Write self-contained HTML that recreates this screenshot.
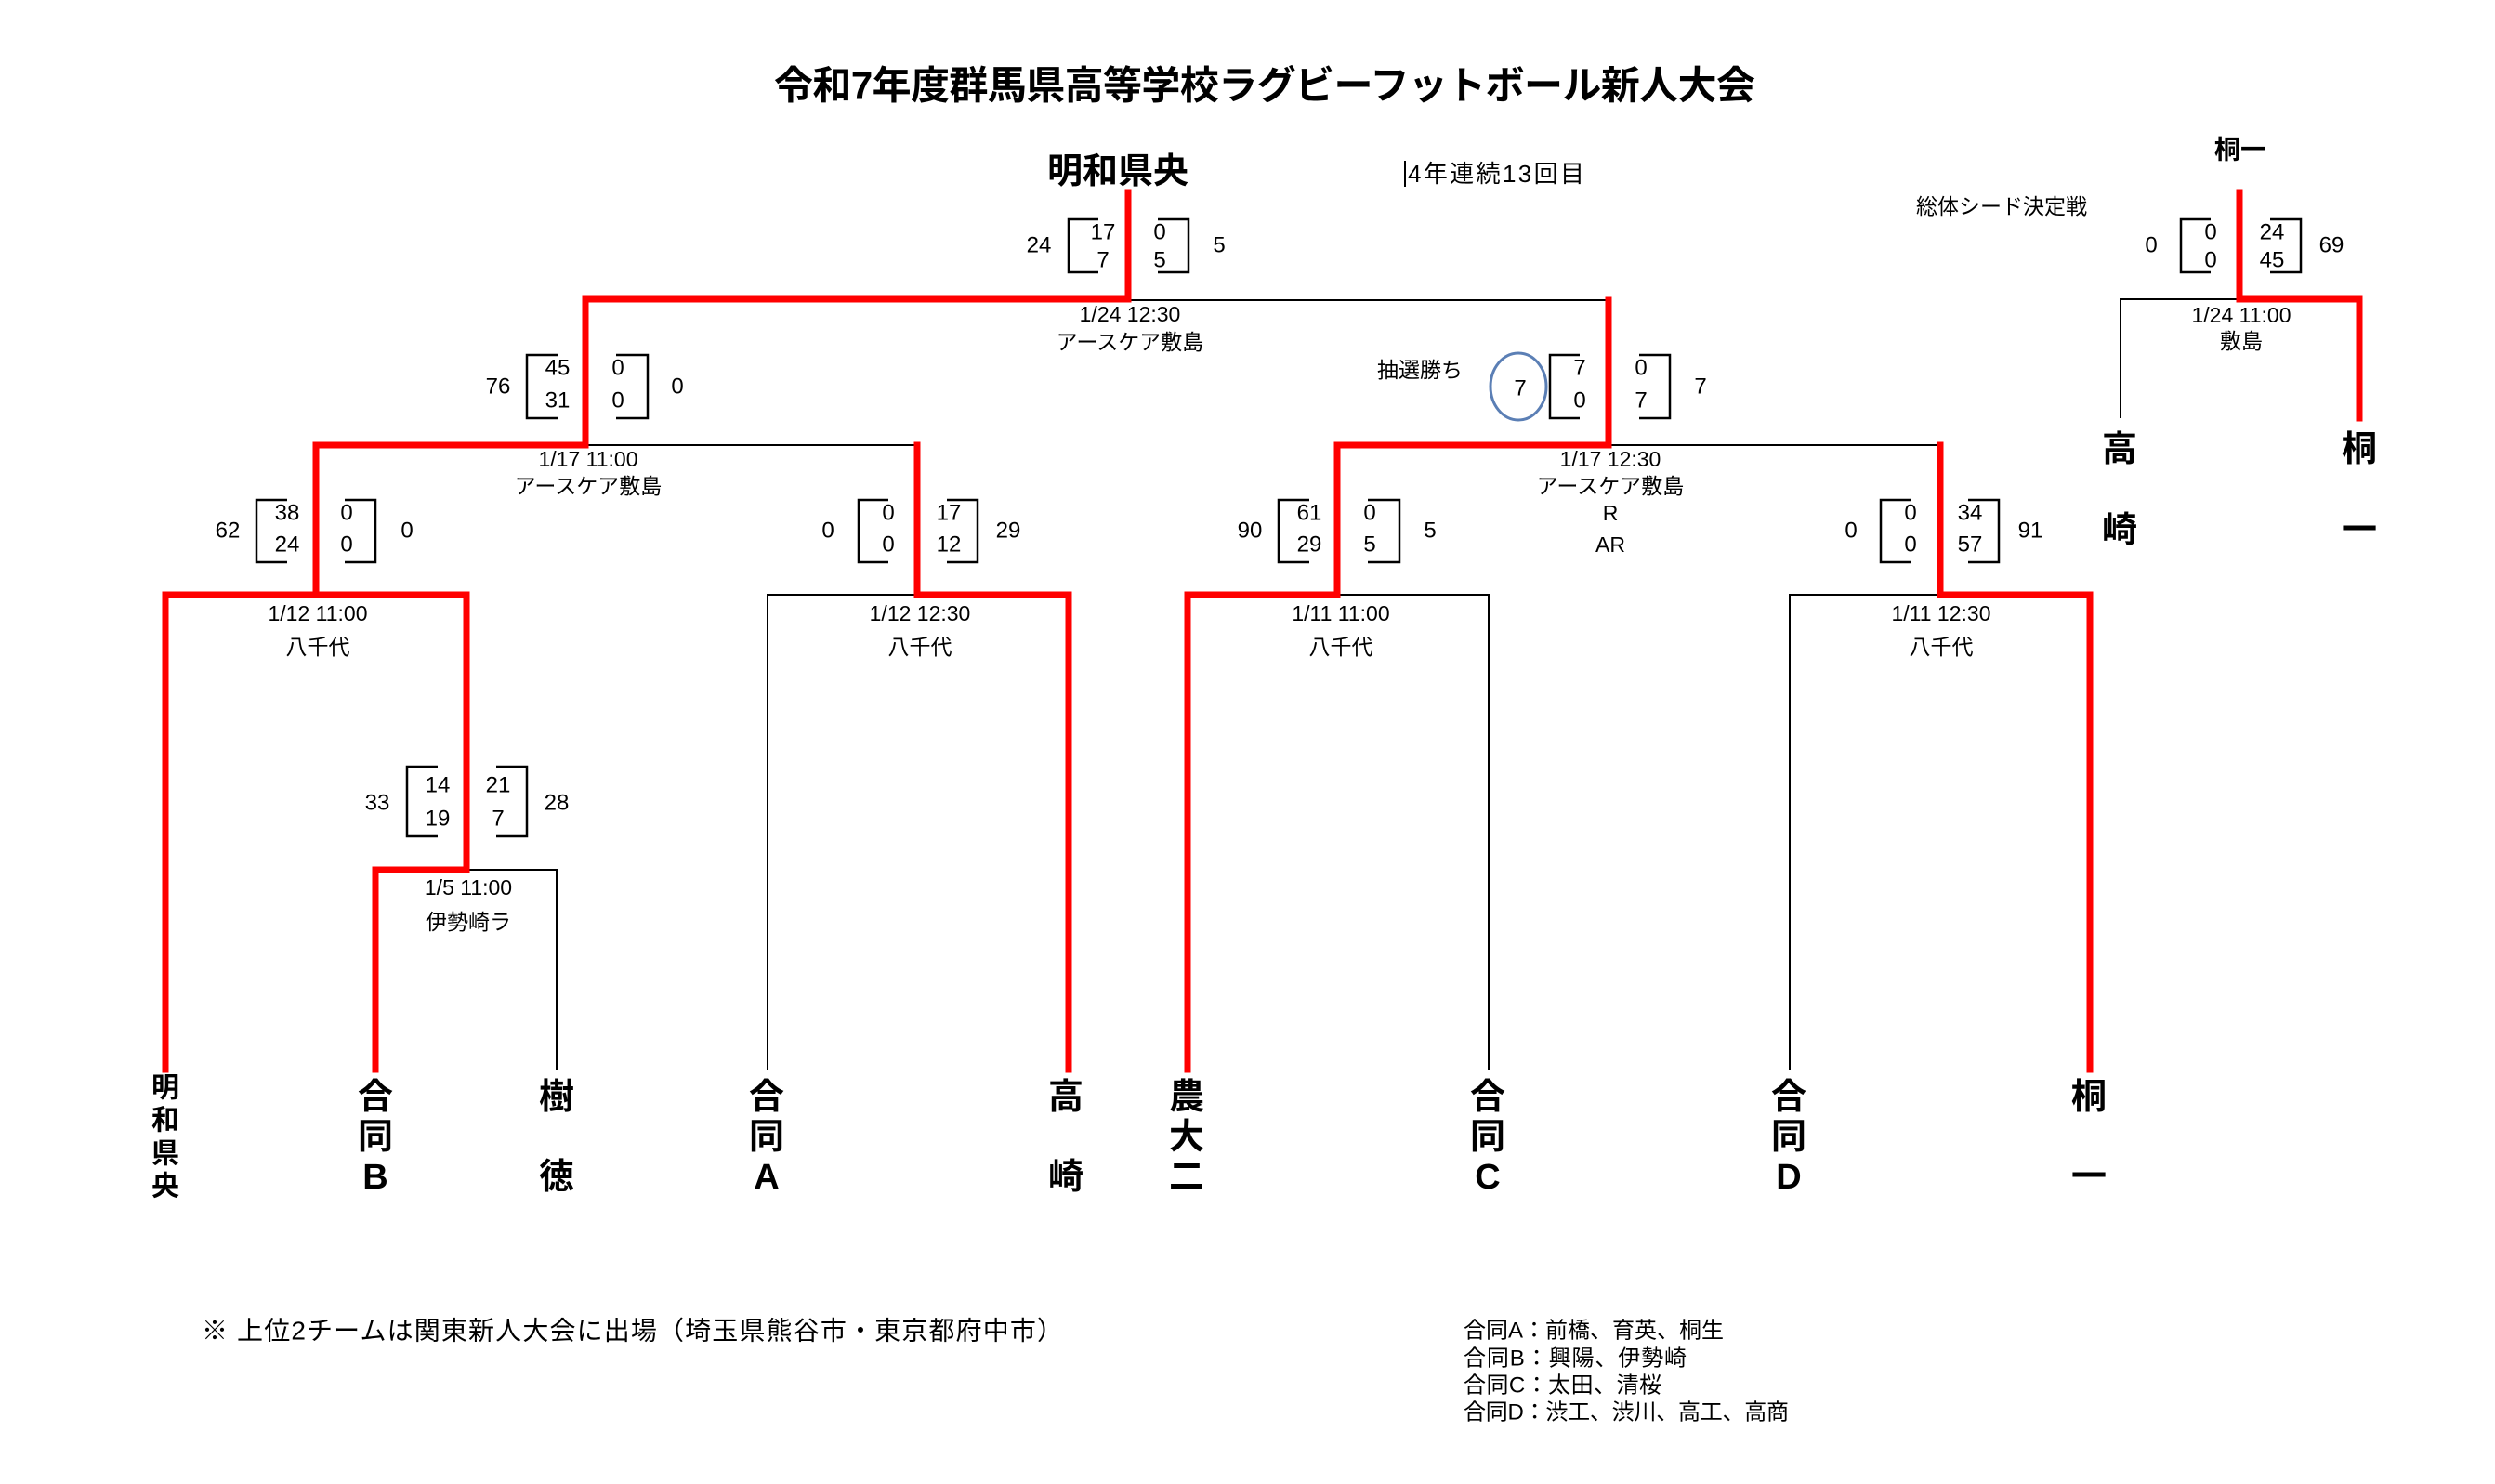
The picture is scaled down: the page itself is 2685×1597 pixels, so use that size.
<!DOCTYPE html>
<html><head><meta charset="utf-8"><style>
html,body{margin:0;padding:0;background:#fff;}
svg{display:block;}
text{font-family:"Liberation Sans","Noto Sans CJK JP",sans-serif;fill:#000;}
.n{font-size:24px;text-anchor:middle;dominant-baseline:central;}
.d{font-size:23px;text-anchor:middle;dominant-baseline:central;}
.t{font-size:38px;font-weight:bold;text-anchor:middle;dominant-baseline:central;}
.r{stroke:#f00;stroke-width:7;fill:none;stroke-linecap:square;}
.k{stroke:#000;stroke-width:2;fill:none;}
.b{stroke:#000;stroke-width:2.5;fill:none;}
</style></head><body>
<svg width="2685" height="1597" viewBox="0 0 2685 1597" xmlns="http://www.w3.org/2000/svg">
<text x="1361" y="92" style="font-size:42px;font-weight:bold;text-anchor:middle;dominant-baseline:central" textLength="1056">令和7年度群馬県高等学校ラグビーフットボール新人大会</text>
<text x="1203" y="185" style="font-size:38px;font-weight:bold;text-anchor:middle;dominant-baseline:central">明和県央</text>
<line x1="1512" y1="173" x2="1512" y2="201" class="k"/>
<text x="1515" y="187" style="font-size:26px;dominant-baseline:central" textLength="190">4年連続13回目</text>
<text x="2154" y="222" class="d">総体シード決定戦</text>
<text x="2411" y="161" style="font-size:28px;font-weight:bold;text-anchor:middle;dominant-baseline:central">桐一</text>

<polyline class="k" points="1214,323 1731,323"/>
<polyline class="k" points="632,479 987,479"/>
<polyline class="k" points="1731,479 2088,479"/>
<polyline class="k" points="340,640 501,640"/>
<polyline class="k" points="826,1151 826,640 987,640"/>
<polyline class="k" points="1439,640 1602,640 1602,1151"/>
<polyline class="k" points="1926,1151 1926,640 2088,640"/>
<polyline class="k" points="502,936 599,936 599,1151"/>
<polyline class="k" points="2282,450 2282,322 2410,322"/>

<polyline class="r" points="1214,207 1214,322 630,322 630,479 340,479 340,640 178,640 178,1151"/>
<polyline class="r" points="340,640 502,640 502,936 404,936 404,1151"/>
<polyline class="r" points="987,479 987,640 1150,640 1150,1151"/>
<polyline class="r" points="1731,323 1731,479 1439,479 1439,640 1278,640 1278,1151"/>
<polyline class="r" points="2088,479 2088,640 2249,640 2249,1151"/>
<polyline class="r" points="2410,207 2410,322 2539,322 2539,450"/>

<text x="1118" y="264" class="n">24</text>
<polyline class="b" points="1182,236 1150,236 1150,293 1182,293"/>
<text x="1187" y="250" class="n">17</text><text x="1187" y="280" class="n">7</text>
<text x="1248" y="250" class="n">0</text><text x="1248" y="280" class="n">5</text>
<polyline class="b" points="1246,236 1279,236 1279,293 1246,293"/>
<text x="1312" y="264" class="n">5</text>
<text x="1216" y="338" class="d">1/24 12:30</text>
<text x="1216" y="368" class="d">アースケア敷島</text>

<text x="536" y="416" class="n">76</text>
<polyline class="b" points="600,382 567,382 567,450 600,450"/>
<text x="600" y="396" class="n">45</text><text x="600" y="431" class="n">31</text>
<text x="665" y="396" class="n">0</text><text x="665" y="431" class="n">0</text>
<polyline class="b" points="663,382 697,382 697,450 663,450"/>
<text x="729" y="416" class="n">0</text>
<text x="633" y="494" class="d">1/17 11:00</text>
<text x="633" y="523" class="d">アースケア敷島</text>

<text x="1528" y="398" class="d">抽選勝ち</text>
<ellipse cx="1634" cy="416" rx="30" ry="36" fill="none" stroke="#5b7fb5" stroke-width="3"/>
<text x="1636" y="418" class="n">7</text>
<polyline class="b" points="1700,382 1668,382 1668,450 1700,450"/>
<text x="1700" y="396" class="n">7</text><text x="1700" y="431" class="n">0</text>
<text x="1766" y="396" class="n">0</text><text x="1766" y="431" class="n">7</text>
<polyline class="b" points="1764,382 1797,382 1797,450 1764,450"/>
<text x="1830" y="416" class="n">7</text>
<text x="1733" y="494" class="d">1/17 12:30</text>
<text x="1733" y="523" class="d">アースケア敷島</text>
<text x="1733" y="552" class="d">R</text>
<text x="1733" y="586" class="d">AR</text>

<text x="245" y="571" class="n">62</text>
<polyline class="b" points="309,538 276,538 276,605 309,605"/>
<text x="309" y="552" class="n">38</text><text x="309" y="586" class="n">24</text>
<text x="373" y="552" class="n">0</text><text x="373" y="586" class="n">0</text>
<polyline class="b" points="371,538 404,538 404,605 371,605"/>
<text x="438" y="571" class="n">0</text>
<text x="342" y="660" class="d">1/12  11:00</text>
<text x="342" y="696" class="d">八千代</text>

<text x="891" y="571" class="n">0</text>
<polyline class="b" points="956,538 924,538 924,605 956,605"/>
<text x="956" y="552" class="n">0</text><text x="956" y="586" class="n">0</text>
<text x="1021" y="552" class="n">17</text><text x="1021" y="586" class="n">12</text>
<polyline class="b" points="1019,538 1052,538 1052,605 1019,605"/>
<text x="1085" y="571" class="n">29</text>
<text x="990" y="660" class="d">1/12  12:30</text>
<text x="990" y="696" class="d">八千代</text>

<text x="1345" y="571" class="n">90</text>
<polyline class="b" points="1409,538 1376,538 1376,605 1409,605"/>
<text x="1409" y="552" class="n">61</text><text x="1409" y="586" class="n">29</text>
<text x="1474" y="552" class="n">0</text><text x="1474" y="586" class="n">5</text>
<polyline class="b" points="1472,538 1506,538 1506,605 1472,605"/>
<text x="1539" y="571" class="n">5</text>
<text x="1443" y="660" class="d">1/11  11:00</text>
<text x="1443" y="696" class="d">八千代</text>

<text x="1992" y="571" class="n">0</text>
<polyline class="b" points="2056,538 2024,538 2024,605 2056,605"/>
<text x="2056" y="552" class="n">0</text><text x="2056" y="586" class="n">0</text>
<text x="2120" y="552" class="n">34</text><text x="2120" y="586" class="n">57</text>
<polyline class="b" points="2118,538 2151,538 2151,605 2118,605"/>
<text x="2185" y="571" class="n">91</text>
<text x="2089" y="660" class="d">1/11  12:30</text>
<text x="2089" y="696" class="d">八千代</text>

<text x="406" y="864" class="n">33</text>
<polyline class="b" points="471,825 438,825 438,900 471,900"/>
<text x="471" y="845" class="n">14</text><text x="471" y="881" class="n">19</text>
<text x="536" y="845" class="n">21</text><text x="536" y="881" class="n">7</text>
<polyline class="b" points="534,825 567,825 567,900 534,900"/>
<text x="599" y="864" class="n">28</text>
<text x="504" y="955" class="d">1/5  11:00</text>
<text x="504" y="992" class="d">伊勢崎ラ</text>

<text x="2315" y="264" class="n">0</text>
<polyline class="b" points="2379,236 2347,236 2347,293 2379,293"/>
<text x="2379" y="250" class="n">0</text><text x="2379" y="280" class="n">0</text>
<text x="2445" y="250" class="n">24</text><text x="2445" y="280" class="n">45</text>
<polyline class="b" points="2443,236 2476,236 2476,293 2443,293"/>
<text x="2509" y="264" class="n">69</text>
<text x="2412" y="339" class="d">1/24 11:00</text>
<text x="2412" y="367" class="d">敷島</text>
<text x="2281" y="484" class="t">高</text><text x="2281" y="571" class="t">崎</text>
<text x="2539" y="484" class="t">桐</text><text x="2539" y="571" class="t">一</text>

<g style="font-size:30px;font-weight:bold;text-anchor:middle;dominant-baseline:central">
<text x="178" y="1171">明</text><text x="178" y="1206">和</text><text x="178" y="1242">県</text><text x="178" y="1277">央</text>
</g>
<text x="404" y="1181" class="t">合</text><text x="404" y="1224" class="t">同</text><text x="404" y="1267" class="t">B</text>
<text x="599" y="1181" class="t">樹</text><text x="599" y="1267" class="t">徳</text>
<text x="825" y="1181" class="t">合</text><text x="825" y="1224" class="t">同</text><text x="825" y="1267" class="t">A</text>
<text x="1147" y="1181" class="t">高</text><text x="1147" y="1267" class="t">崎</text>
<text x="1277" y="1181" class="t">農</text><text x="1277" y="1224" class="t">大</text><text x="1277" y="1267" class="t">二</text>
<text x="1601" y="1181" class="t">合</text><text x="1601" y="1224" class="t">同</text><text x="1601" y="1267" class="t">C</text>
<text x="1925" y="1181" class="t">合</text><text x="1925" y="1224" class="t">同</text><text x="1925" y="1267" class="t">D</text>
<text x="2248" y="1181" class="t">桐</text><text x="2248" y="1267" class="t">一</text>

<text x="217" y="1432" style="font-size:28px;dominant-baseline:central" textLength="927">※  上位2チームは関東新人大会に出場（埼玉県熊谷市・東京都府中市）</text>
<g style="font-size:24px;dominant-baseline:central">
<text x="1575" y="1432" textLength="280">合同A：前橋、育英、桐生</text>
<text x="1575" y="1462" textLength="240">合同B：興陽、伊勢崎</text>
<text x="1575" y="1491" textLength="213">合同C：太田、清桜</text>
<text x="1575" y="1520" textLength="350">合同D：渋工、渋川、高工、高商</text>
</g>
</svg>
</body></html>
